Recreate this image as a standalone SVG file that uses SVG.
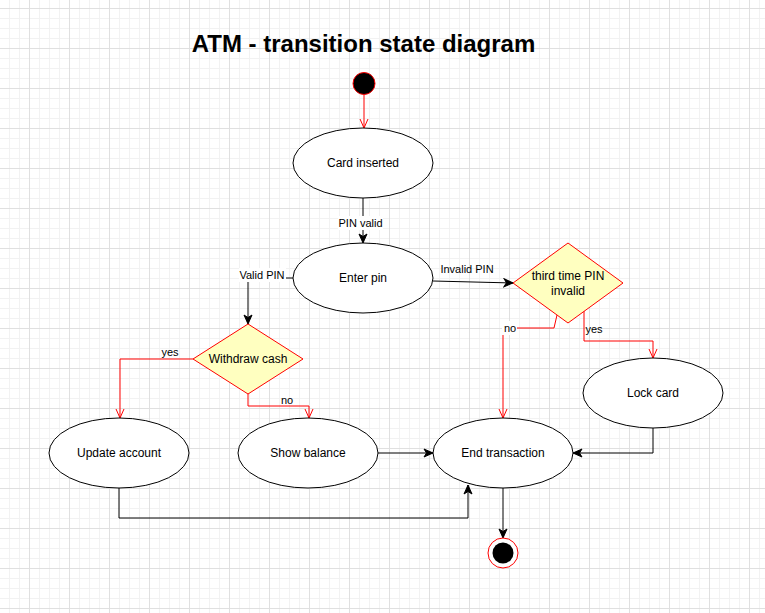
<svg xmlns="http://www.w3.org/2000/svg" width="765" height="613" viewBox="0 0 765 613">
<style>
.state{fill:#ffffff;stroke:#000000;stroke-width:1}
.dec{fill:#ffffc0;stroke:#ff0000;stroke-width:1}
.t{font-family:"Liberation Sans",Arial,sans-serif;font-size:12px;fill:#000;text-anchor:middle}
.el{font-family:"Liberation Sans",Arial,sans-serif;font-size:11px;fill:#000;text-anchor:middle}
.red{fill:none;stroke:#ff0000;stroke-width:1;marker-end:url(#open)}
.blk{fill:none;stroke:#000000;stroke-width:1;marker-end:url(#block)}
.lbg{fill:#ffffff}
</style>
<defs>
<pattern id="grid" x="29" y="8" width="40" height="40" patternUnits="userSpaceOnUse">
<path d="M10.5,0V40M20.5,0V40M30.5,0V40M0,10.5H40M0,20.5H40M0,30.5H40" stroke="#f2f2f2" stroke-width="1" fill="none"/>
<path d="M0.5,0V40M0,0.5H40" stroke="#e0e0e0" stroke-width="1" fill="none"/>
</pattern>
<marker id="open" markerWidth="12" markerHeight="10" refX="10" refY="5" orient="auto" markerUnits="userSpaceOnUse">
<path d="M1,1 L10,5 L1,9" fill="none" stroke="#ff0000" stroke-width="1"/>
</marker>
<marker id="block" markerWidth="12" markerHeight="10" refX="10" refY="5" orient="auto" markerUnits="userSpaceOnUse">
<path d="M1,1 L10,5 L1,9 L3.5,5 z" fill="#000000" stroke="#000000" stroke-width="1"/>
</marker>
</defs>
<rect width="765" height="613" fill="#ffffff"/>
<rect width="765" height="613" fill="url(#grid)"/>
<text x="363.5" y="52" font-family="'Liberation Sans',Arial,sans-serif" font-size="24" font-weight="bold" text-anchor="middle" fill="#000">ATM - transition state diagram</text>
<g id="connectors">
<path class="red" d="M364,95 L364,128"/>
<path class="blk" d="M363,198 L363,243"/>
<path class="blk" d="M293,278 L248,278 L248,324"/>
<path class="blk" d="M433,281 L513,283"/>
<path class="red" d="M193,359 L120,359 L120,418"/>
<path class="red" d="M248,394 L248,406 L309,406 L309,418"/>
<path class="red" d="M557,315 L554,328 L503,328 L503,418"/>
<path class="red" d="M584,311 L584,341 L653,341 L653,358"/>
<path class="blk" d="M378,453 L433,453"/>
<path class="blk" d="M119,488 L119,518 L468,518 L468,485"/>
<path class="blk" d="M653,428 L653,453 L573,453"/>
<path class="blk" d="M503,488 L503,538"/>
<rect class="lbg" x="338" y="216" width="45" height="14"/>
<text class="el" x="360.5" y="227">PIN valid</text>
<rect class="lbg" x="239" y="268" width="47" height="14"/>
<text class="el" x="262" y="279">Valid PIN</text>
<text class="el" x="467" y="273">Invalid PIN</text>
<rect class="lbg" x="502" y="321" width="15" height="14"/>
<text class="el" x="510" y="332">no</text>
<text class="el" x="594" y="333">yes</text>
<text class="el" x="170" y="356">yes</text>
<text class="el" x="287" y="404">no</text>
</g>
<g id="start"><circle cx="364" cy="83.5" r="11" fill="#000000" stroke="#ff0000" stroke-width="1"/></g>
<g id="card-inserted"><ellipse class="state" cx="363" cy="163" rx="70" ry="35"/><text class="t" x="363" y="167">Card inserted</text></g>
<g id="enter-pin"><ellipse class="state" cx="363" cy="278" rx="70" ry="35"/><text class="t" x="363" y="282">Enter pin</text></g>
<g id="withdraw-cash"><polygon class="dec" points="248,324 303,359 248,394 193,359"/><text class="t" x="248" y="363">Withdraw cash</text></g>
<g id="third-time"><polygon class="dec" points="568,243 623,283 568,323 513,283"/><text class="t" x="568" y="280">third time PIN</text><text class="t" x="568" y="295">invalid</text></g>
<g id="update-account"><ellipse class="state" cx="119" cy="453" rx="70" ry="35"/><text class="t" x="119" y="457">Update account</text></g>
<g id="show-balance"><ellipse class="state" cx="308" cy="453" rx="70" ry="35"/><text class="t" x="308" y="457">Show balance</text></g>
<g id="end-transaction"><ellipse class="state" cx="503" cy="453" rx="70" ry="35"/><text class="t" x="503" y="457">End transaction</text></g>
<g id="lock-card"><ellipse class="state" cx="653" cy="393" rx="70" ry="35"/><text class="t" x="653" y="397">Lock card</text></g>
<g id="end"><circle cx="503" cy="553" r="15" fill="#ffffff" stroke="#ff0000" stroke-width="1"/><circle cx="503" cy="553" r="10.5" fill="#000000"/></g>
</svg>
